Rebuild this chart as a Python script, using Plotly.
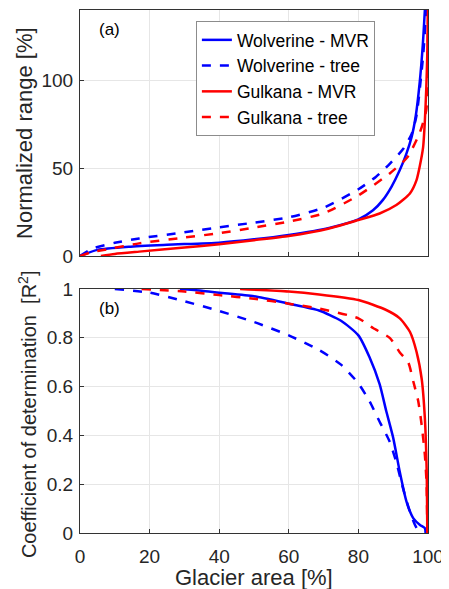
import plotly.graph_objects as go

# ---- data ----
# Panel (a): normalized range [%] vs glacier area [%]
wol_mvr_a_x = [0, 5, 14, 25, 40, 50, 60, 71.6, 80, 84.2, 87, 89.5, 91.9, 93.8, 95.3, 96.5, 97.6, 98.5, 99.1]
wol_mvr_a_y = [0, 3.5, 5.3, 6.4, 7.6, 9.5, 12, 16, 20.8, 26, 31.8, 39.4, 48.9, 58.3, 67.8, 80, 98.5, 120, 140]

wol_tree_a_x = [0, 3.8, 10, 17, 30, 40, 50, 60, 70, 80, 85, 89, 92.9, 95.3, 96.7, 98.6, 99.5]
wol_tree_a_y = [0, 4.4, 7.5, 10, 13.5, 16.3, 19, 22, 27.5, 38, 45, 52.5, 61, 69.5, 80, 114, 140]

gul_mvr_a_x = [6, 10, 17, 30, 40, 50, 60, 71.6, 80, 86.1, 90.9, 94.8, 96.7, 97.6, 98.6, 99.1, 99.5, 99.8, 100]
gul_mvr_a_y = [0, 1.2, 2.5, 4.8, 6.7, 9, 11.4, 15.7, 20.5, 24.2, 29, 35.6, 43.2, 50.8, 62, 77, 95, 115, 140]

gul_tree_a_x = [0, 3, 7.7, 17, 30, 40, 50, 60, 70, 80, 89, 94, 97.6, 99.5, 99.9, 100]
gul_tree_a_y = [0, 2, 3.8, 7.2, 10.5, 13, 16.2, 19.6, 24.3, 34.5, 47, 56, 70, 83, 110, 140]

# Panel (b): coefficient of determination vs glacier area [%]
wol_mvr_b_x = [28.7, 35, 40, 50, 60, 68.7, 75, 80, 83.2, 86.1, 88, 90, 91.9, 93.8, 95.8, 97.7, 99.1, 99.3]
wol_mvr_b_y = [1.0, 0.993, 0.985, 0.97, 0.94, 0.912, 0.87, 0.81, 0.72, 0.61, 0.50, 0.39, 0.25, 0.13, 0.06, 0.033, 0.02, 0.0]

wol_tree_b_x = [10, 20, 30, 40, 50, 60, 68.7, 75, 80, 83.2, 86.1, 89, 90.9, 92.5, 94.5, 96.2, 97.6]
wol_tree_b_y = [1.0, 0.985, 0.95, 0.91, 0.865, 0.81, 0.75, 0.69, 0.613, 0.54, 0.456, 0.374, 0.29, 0.2, 0.1, 0.035, 0.0]

gul_mvr_b_x = [46, 60, 68.7, 80, 88, 91.9, 94.8, 96.7, 98.2, 99.1, 99.6, 99.8]
gul_mvr_b_y = [1.0, 0.99, 0.978, 0.955, 0.914, 0.88, 0.825, 0.743, 0.63, 0.47, 0.265, 0.0]

gul_tree_b_x = [17.7, 30, 40, 50, 60, 68.7, 80, 84.2, 89, 91.9, 94.3, 95.8, 97.2, 98.2, 99.1, 99.6, 99.8]
gul_tree_b_y = [1.0, 0.99, 0.975, 0.96, 0.94, 0.92, 0.88, 0.84, 0.80, 0.74, 0.70, 0.62, 0.54, 0.44, 0.32, 0.2, 0.0]

x_ticks = [0, 20, 40, 60, 80, 100]
ya_ticks = [0, 50, 100]
yb_ticks = [0, 0.2, 0.4, 0.6, 0.8, 1]
yb_labels = ["0", "0.2", "0.4", "0.6", "0.8", "1"]

BLUE = "#0000FF"
RED = "#FF0000"
LW = 2.5

fig = go.Figure()

series = [
    ("Wolverine - MVR", wol_mvr_a_x, wol_mvr_a_y, wol_mvr_b_x, wol_mvr_b_y, BLUE, "solid"),
    ("Wolverine - tree", wol_tree_a_x, wol_tree_a_y, wol_tree_b_x, wol_tree_b_y, BLUE, "dash"),
    ("Gulkana - MVR", gul_mvr_a_x, gul_mvr_a_y, gul_mvr_b_x, gul_mvr_b_y, RED, "solid"),
    ("Gulkana - tree", gul_tree_a_x, gul_tree_a_y, gul_tree_b_x, gul_tree_b_y, RED, "dash"),
]

for name, xa, ya, xb, yb, col, dash in series:
    fig.add_trace(go.Scatter(x=xa, y=ya, mode="lines", name=name,
                             line=dict(color=col, width=LW, dash=dash, shape="spline", smoothing=0.6),
                             xaxis="x", yaxis="y", legendgroup=name))
for name, xa, ya, xb, yb, col, dash in series:
    fig.add_trace(go.Scatter(x=xb, y=yb, mode="lines", name=name, showlegend=False,
                             line=dict(color=col, width=LW, dash=dash, shape="spline", smoothing=0.6),
                             xaxis="x2", yaxis="y2", legendgroup=name))

FONT = "Liberation Sans, Arial, Helvetica, sans-serif"
TXT = "#262626"
GRID = "#E6E6E6"
AX = "#333333"

common_x = dict(range=[0, 100], tickvals=x_ticks, showgrid=True, gridcolor=GRID, gridwidth=1,
                showline=True, linecolor=AX, linewidth=1, mirror=True, ticks="inside",
                ticklen=4, tickcolor=AX, zeroline=False, automargin=False,
                tickfont=dict(size=19, color=TXT))
common_y = dict(showgrid=True, gridcolor=GRID, gridwidth=1, showline=True, linecolor=AX,
                linewidth=1, mirror=True, ticks="inside", ticklen=4, tickcolor=AX,
                zeroline=False, automargin=False, tickfont=dict(size=19, color=TXT))

# The page body has an 8px margin, so the figure is drawn 8px smaller and offset.
fig.update_layout(
    width=441, height=581,
    margin=dict(l=72, r=21, t=2, b=56, autoexpand=False),
    paper_bgcolor="white", plot_bgcolor="white",
    font=dict(family=FONT, color=TXT, size=19),
    showlegend=True,
    hovermode=False,
    xaxis=dict(common_x, domain=[0, 1], anchor="y", showticklabels=False),
    yaxis=dict(common_y, domain=[0.5296, 1], range=[0, 140], tickvals=ya_ticks, ticklabelstandoff=2),
    xaxis2=dict(common_x, domain=[0, 1], anchor="y2", ticklabelstandoff=6),
    yaxis2=dict(common_y, domain=[0, 0.4665], range=[0, 1], tickvals=yb_ticks, ticktext=yb_labels,
                anchor="x2", ticklabelstandoff=2),
    legend=dict(x=0.333, y=0.979, xanchor="left", yanchor="top", bgcolor="white",
                bordercolor="#8C8C8C", borderwidth=1, font=dict(size=17.5, color="black"),
                tracegroupgap=0, itemwidth=30),
    annotations=[
        dict(text="(a)", x=0.049, y=0.962, xref="paper", yref="paper", showarrow=False,
             xanchor="left", yanchor="middle", font=dict(size=17, color="black")),
        dict(text="(b)", x=0.049, y=0.430, xref="paper", yref="paper", showarrow=False,
             xanchor="left", yanchor="middle", font=dict(size=17, color="black")),
        dict(text="Normalized range [%]", x=-0.158, y=0.765, xref="paper", yref="paper",
             showarrow=False, textangle=-90, xanchor="center", yanchor="middle",
             font=dict(size=22, color=TXT)),
        dict(text="Coefficient of determination  [R<sup>2</sup>]", x=-0.152, y=0.2275,
             xref="paper", yref="paper", showarrow=False, textangle=-90,
             xanchor="center", yanchor="middle", font=dict(size=20, color=TXT)),
        dict(text="Glacier area [%]", x=0.5, y=-0.086, xref="paper", yref="paper",
             showarrow=False, xanchor="center", yanchor="middle",
             font=dict(size=22, color=TXT)),
    ],
)

fig.write_html("out.html")
